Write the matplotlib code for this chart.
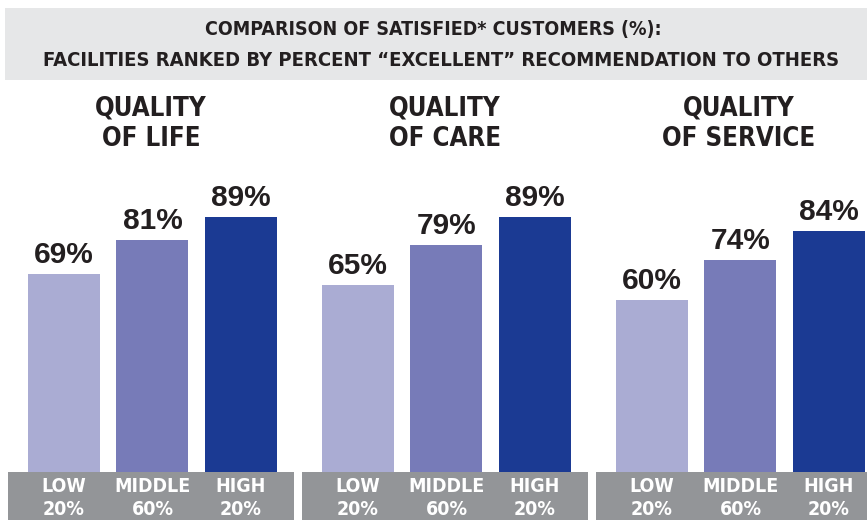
import matplotlib
matplotlib.use('Agg')
import matplotlib.pyplot as plt
from matplotlib.patches import Rectangle

# data
panels = ['QUALITY\nOF LIFE', 'QUALITY\nOF CARE', 'QUALITY\nOF SERVICE']
groups = ['LOW\n20%', 'MIDDLE\n60%', 'HIGH\n20%']
low = [69, 65, 60]
middle = [81, 79, 74]
high = [89, 89, 84]

colors = ['#aaacd3', '#777bb8', '#1b3a93']
narrow = ['DejaVu Sans']
wide = ['Liberation Sans', 'DejaVu Sans']
ink = '#231f20'

W, H = 867, 520
fig = plt.figure(figsize=(W / 100, H / 100), dpi=100)

# title band
fig.patches.append(Rectangle((5 / W, 1 - 80 / H), 1, 72 / H, transform=fig.transFigure,
                             facecolor='#e6e7e8', edgecolor='none', zorder=-1))
fig.text(433 / W, 1 - 30 / H, 'COMPARISON OF SATISFIED* CUSTOMERS (%):', ha='center', va='center',
         fontsize=14, fontweight='bold', family=narrow, fontstretch='condensed', color=ink)
fig.text(441 / W, 1 - 60 / H, 'FACILITIES RANKED BY PERCENT \u201cEXCELLENT\u201d RECOMMENDATION TO OTHERS',
         ha='center', va='center', fontsize=14.5, fontweight='bold', family=narrow,
         fontstretch='condensed', color=ink)

panel_left = [8, 302, 596]
pw = 286
base = 472
px_per = 2.87

for i, name in enumerate(panels):
    left = panel_left[i]
    ax = fig.add_axes([left / W, (H - base) / H, pw / W, 100 * px_per / H])
    vals = [low[i], middle[i], high[i]]
    x = [0, 1, 2]
    bars = ax.bar(x, vals, width=0.814, color=colors, zorder=2)
    ax.set_xlim(-0.633, 2.6)
    ax.set_ylim(0, 100)
    ax.axis('off')
    for b, v in zip(bars, vals):
        ax.annotate('%d%%' % v, (b.get_x() + b.get_width() / 2, v), xytext=(0, 11),
                    textcoords='offset pixels', ha='center', va='baseline',
                    fontsize=21.5, fontweight='bold', family=wide, color=ink)

    # gray band with group labels
    fig.patches.append(Rectangle((left / W, 0), pw / W, (H - base) / H, transform=fig.transFigure,
                                 facecolor='#939598', edgecolor='none', zorder=-1))
    for xi, g in zip(x, groups):
        ax.text(xi, -26 / px_per, g, ha='center', va='center', fontsize=14, fontweight='bold',
                family=narrow, fontstretch='condensed', color='white', linespacing=1.22,
                clip_on=False)

    fig.text((left + pw / 2) / W, 1 - 124 / H, name, ha='center', va='center', fontsize=18.5,
             fontweight='bold', family=narrow, fontstretch='condensed', color=ink, linespacing=1.25)

fig.savefig('out.png', dpi=100)
